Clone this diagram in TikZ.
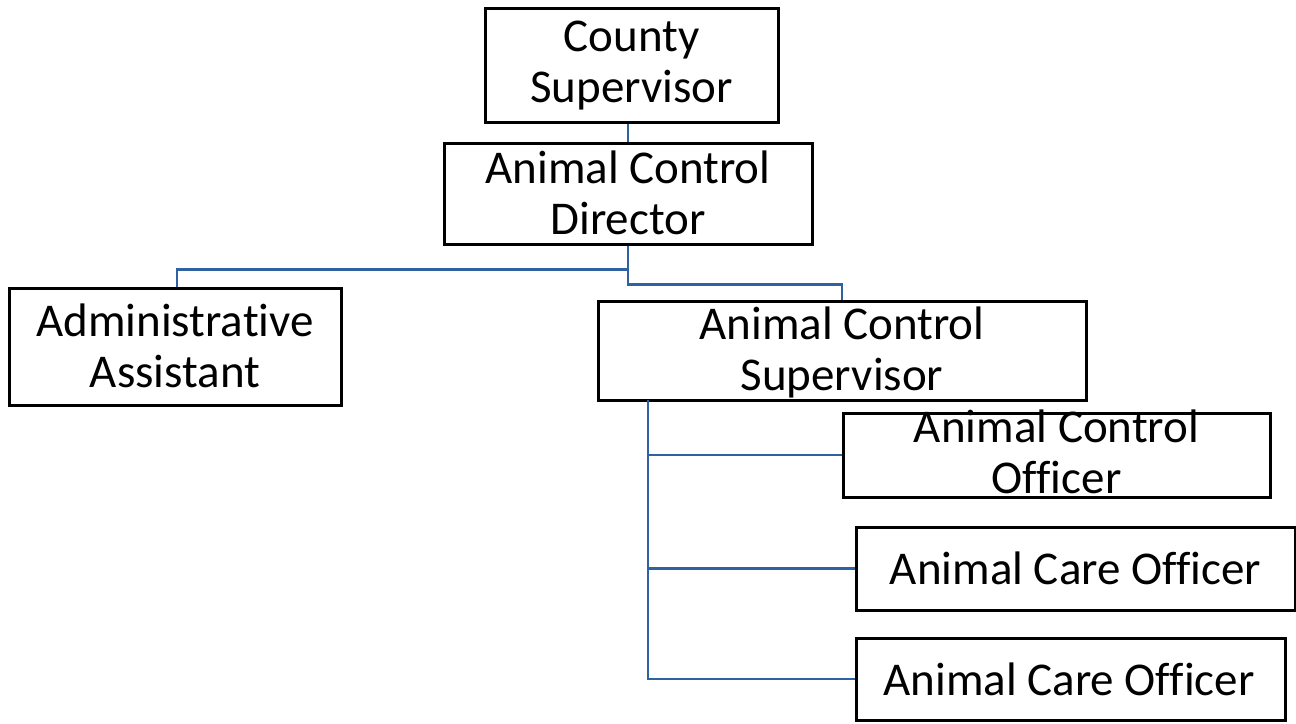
\documentclass[tikz,border=0pt]{standalone}
\usepackage{fontspec}
\setmainfont{Carlito}[Ligatures=NoCommon]
\definecolor{linkblue}{RGB}{47,98,160}
\begin{document}
\begin{tikzpicture}[x=1pt,y=-1pt,
  box/.style={draw=black,line width=3pt,rectangle,inner sep=0pt,fill=white},
  label/.style={align=center,inner sep=0pt,font=\fontsize{47}{51}\selectfont},
  link/.style={draw=linkblue,line width=2.8pt}]
\useasboundingbox (0,0) rectangle (1296,723);
\fill[white] (0,0) rectangle (1296,723);

% boxes
\node[box,minimum width=293pt,minimum height=114pt] (cs)    at (631.5,65)   {};
\node[box,minimum width=368pt,minimum height=101pt] (dir)   at (628,193.5)  {};
\node[box,minimum width=332pt,minimum height=117pt] (adm)   at (175,346.5)  {};
\node[box,minimum width=488pt,minimum height=99pt]  (acs)   at (842,350.5)  {};
\node[box,minimum width=427pt,minimum height=84pt]  (aco)   at (1056.5,455) {};
\node[box,minimum width=439pt,minimum height=83pt]  (care1) at (1075.5,568.5) {};
\node[box,minimum width=429pt,minimum height=82pt]  (care2) at (1070.5,679) {};

% connectors
\coordinate (spine) at (648,400);
\draw[link] (dir.north) -- (dir.north |- cs.south);
\draw[link] (dir.south) -- ++(0,24) -| ([xshift=2pt]adm.north);
\draw[link] (dir.south) -- ++(0,39) -| (acs.north);
\draw[link] (spine) |- (aco.west);
\draw[link] (spine) |- (care1.west);
\draw[link] (spine) |- (care2.west);

% titles
\node[label] at (631.5,66)   {County\\Supervisor};
\node[label] at (628,193)    {Animal Control\\Director};
\node[label] at (175,346)    {Administrative\\Assistant};
\node[label] at (842,352)    {Animal Control\\Supervisor};
\node[label] at (1056.5,452) {Animal Control\\Officer};
\node[label] at (1075.5,568) {Animal Care Officer};
\node[label] at (1069,679)   {Animal Care Officer};
\end{tikzpicture}
\end{document}
